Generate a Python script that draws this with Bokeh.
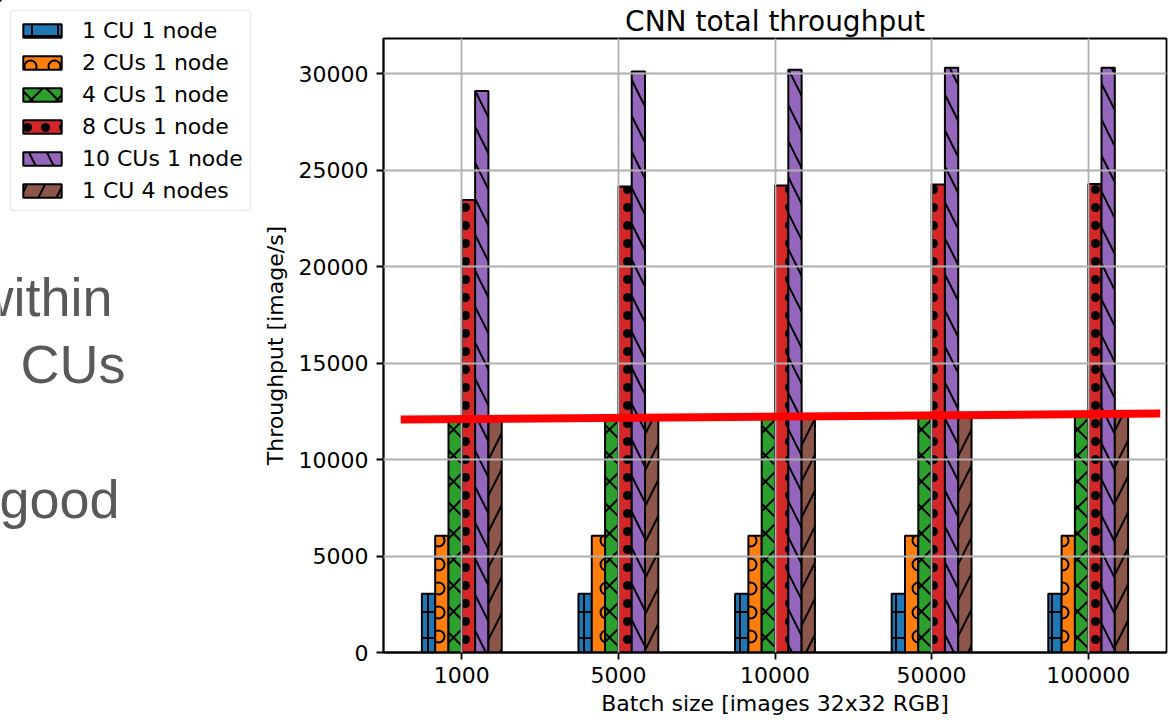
import numpy as np
from bokeh.plotting import figure
from bokeh.models import Range1d, FixedTicker, Legend, LegendItem, NumeralTickFormatter
from bokeh.layouts import row
from bokeh.embed import file_html
from bokeh.resources import INLINE
from bokeh.core.properties import value

# ---------------- data ----------------
batch_labels = ["1000", "5000", "10000", "50000", "100000"]
series_names = ["1 CU 1 node", "2 CUs 1 node", "4 CUs 1 node",
                "8 CUs 1 node", "10 CUs 1 node", "1 CU 4 nodes"]
cu1_node1 = [3050, 3050, 3050, 3050, 3050]
cu2_node1 = [6050, 6050, 6050, 6050, 6050]
cu4_node1 = [12050, 12150, 12200, 12250, 12250]
cu8_node1 = [23450, 24150, 24200, 24250, 24270]
cu10_node1 = [29100, 30100, 30200, 30300, 30300]
cu1_node4 = [12100, 12150, 12200, 12250, 12300]
series_values = [cu1_node1, cu2_node1, cu4_node1, cu8_node1, cu10_node1, cu1_node4]
y_ticks = [0, 5000, 10000, 15000, 20000, 25000, 30000]
# red annotation line drawn on the slide (data coords)
red_line_x = [-0.39, 4.46]
red_line_y = [12070, 12380]
slide_words = ["within", "CUs", "good"]

# ---------------- styles ----------------
colors = ["#1f77b4", "#ff7f0e", "#2ca02c", "#d62728", "#9467bd", "#8c564b"]
hatches = ["cross", "ring", "diagonal_cross", "dot", "left_diagonal_line", "right_diagonal_line"]
hatch_scales = [26, 24, 26, 18, 36, 36]
bar_w = 0.085
FONT = "DejaVu Sans"

W_LEFT = 258
H = 718
W_CHART = 1169 - W_LEFT

# ---------------- left (slide) panel: frame covers the whole canvas ----------------
left = figure(width=W_LEFT, height=H, x_range=Range1d(0, W_LEFT), y_range=Range1d(H, 0),
              output_backend="svg", toolbar_location=None, min_border=0,
              x_axis_type=None, y_axis_type=None, title=None)
left.frame_align = False
left.grid.visible = False
left.outline_line_color = None

text_x = [-26, 20, -1]
text_y = [296, 363, 498]
left.text(x=text_x, y=text_y, text=slide_words, text_font=value("Liberation Sans"),
          text_font_size="54px", text_color="#595959", text_baseline="alphabetic",
          text_align="left")

dummies = []
for c, h, s in zip(colors, hatches, hatch_scales):
    r = left.vbar(x=[-5000], top=[-5000], bottom=[-5001], width=1, fill_color=c,
                  line_color="black", line_width=2, hatch_pattern=h, hatch_color="black",
                  hatch_weight=2, hatch_scale=s)
    dummies.append(r)
legend = Legend(items=[LegendItem(label=n, renderers=[r]) for n, r in zip(series_names, dummies)],
                location=(10, H - 211))
legend.label_text_font = FONT
legend.label_text_font_size = "22px"
legend.label_text_color = "black"
legend.glyph_width = 48
legend.glyph_height = 17
legend.label_standoff = 16
legend.spacing = 7
legend.padding = 7
legend.margin = 0
legend.border_line_color = "#cccccc"
legend.border_line_width = 1.5
legend.border_radius = 4
legend.background_fill_alpha = 0.8
left.add_layout(legend)

# ---------------- chart ----------------
p = figure(width=W_CHART, height=H, x_range=Range1d(-0.5, 4.5), y_range=Range1d(0, 31815),
           output_backend="svg", toolbar_location=None,
           min_border_left=125, min_border_right=3, min_border_top=38,
           min_border_bottom=66, title="CNN total throughput")
p.frame_align = False
p.title.text_font = FONT
p.title.text_font_size = "28px"
p.title.text_font_style = "normal"
p.title.text_color = "black"
p.title.align = "center"
p.title.standoff = 1

xs = np.arange(len(batch_labels))
for i, (vals, c, h, s) in enumerate(zip(series_values, colors, hatches, hatch_scales)):
    p.vbar(x=xs + (i - 2.5) * bar_w, top=vals, bottom=0, width=bar_w, fill_color=c,
           line_color="black", line_width=2, hatch_pattern=h, hatch_color="black",
           hatch_weight=2, hatch_scale=s)

rl = p.line(x=red_line_x, y=red_line_y, line_color="#ff0000", line_width=8)
rl.level = "annotation"

p.xaxis.ticker = FixedTicker(ticks=list(range(len(batch_labels))))
p.xaxis.major_label_overrides = {i: lab for i, lab in enumerate(batch_labels)}
p.yaxis.ticker = FixedTicker(ticks=y_ticks)
p.yaxis.formatter = NumeralTickFormatter(format="0")
p.xgrid.ticker = FixedTicker(ticks=list(range(len(batch_labels))))
p.ygrid.ticker = FixedTicker(ticks=y_ticks)
p.grid.grid_line_color = "#b0b0b0"
p.grid.grid_line_width = 1.8
p.grid.level = "guide"

p.xaxis.axis_label = "Batch size [images 32x32 RGB]"
p.yaxis.axis_label = "Throughput [image/s]"
for ax in (p.xaxis, p.yaxis):
    ax.axis_label_text_font = FONT
    ax.axis_label_text_font_size = "22px"
    ax.axis_label_text_font_style = "normal"
    ax.major_label_text_font = FONT
    ax.major_label_text_font_size = "22px"
    ax.major_label_text_color = "black"
    ax.axis_label_text_color = "black"
    ax.minor_tick_line_color = None
    ax.major_tick_in = 0
    ax.major_tick_out = 7
    ax.major_tick_line_width = 1.8
    ax.axis_line_width = 1.8
p.xaxis.major_label_standoff = 7
p.xaxis.axis_label_standoff = 5
p.yaxis.major_label_standoff = 8
p.yaxis.axis_label_standoff = 8
p.outline_line_color = "black"
p.outline_line_width = 1.8

layout = row(left, p)
open("out.html", "w").write(file_html(layout, INLINE))
